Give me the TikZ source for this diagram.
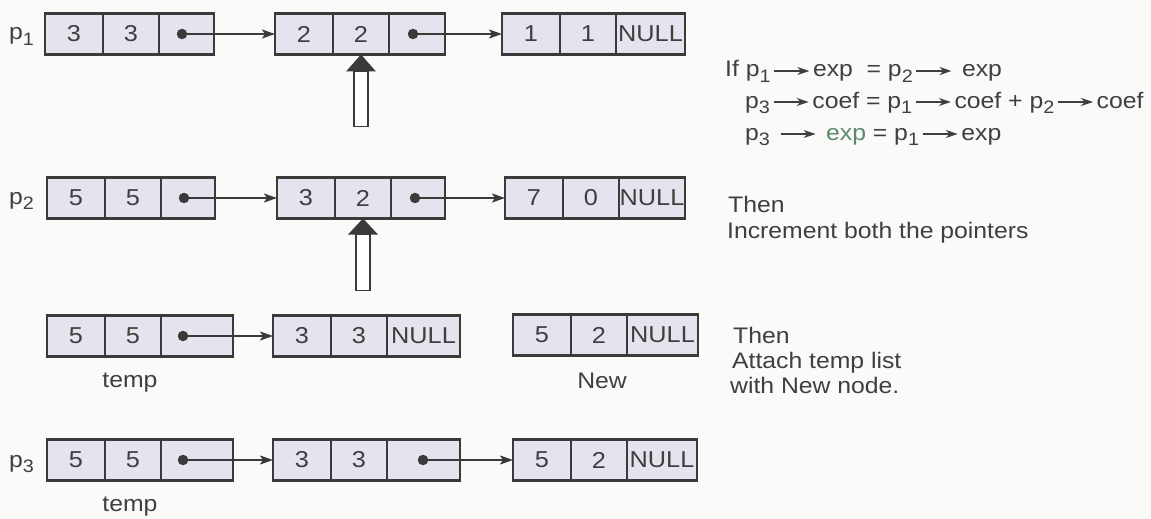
\documentclass[tikz,border=0pt]{standalone}
\usepackage{fontspec}
\setmainfont{Liberation Sans}[FakeStretch=1.1]
\usetikzlibrary{arrows.meta,calc}
\definecolor{bgc}{HTML}{FAFAF8}
\definecolor{cellc}{HTML}{E4E4EE}
\definecolor{bordc}{HTML}{3A3A3A}
\definecolor{txtc}{HTML}{3F3F3F}
\definecolor{expg}{HTML}{5E8A6C}
\newcommand\sbs[1]{\raisebox{-0.45ex}{\fontsize{18}{18}\selectfont #1}}
\newcommand\parr{\hspace{3pt}\tikz[baseline=-6pt]\draw[txtc,line width=1.4pt,-{Stealth[length=12pt,width=8pt]}] (0pt,0pt) -- (35pt,0pt);\hspace{3pt}}
% name, west x, center y, width of third cell, texts
\newcommand\listnode[7]{%
  \node[cell,minimum width=58pt] (#1-1) at (#2,#3) {#5};
  \node[cell,minimum width=56pt] (#1-2) at (#1-1.east) {#6};
  \node[cell,minimum width=#4pt] (#1-3) at (#1-2.east) {#7};
}
\begin{document}
\begin{tikzpicture}[x=1pt,y=-1pt,
  cell/.style={draw=bordc, fill=cellc, line width=2.2pt, minimum height=41pt,
    inner sep=0pt, outer sep=0pt, anchor=west, text=txtc,
    font=\fontsize{23}{27}\selectfont},
  dotn/.style={circle, fill=bordc, inner sep=0pt, minimum size=10.5pt},
  link/.style={draw=bordc, line width=2pt, -{Stealth[length=13pt,width=9pt,inset=3pt]}},
  lbl/.style={text=txtc, font=\fontsize{22.5}{27}\selectfont, inner sep=0pt, anchor=base west},
  upfill/.style={fill=bordc},
  upshaft/.style={draw=bordc, line width=1.6pt, fill=white}]
\fill[bgc] (0,0) rectangle (1151,519);
\useasboundingbox (0,0) rectangle (1151,519);

% Row 1
\listnode{r1a}{45}{34}{55}{3}{3}{}
\listnode{r1b}{275}{34}{56}{2}{2}{}
\listnode{r1c}{502}{34}{69}{1}{1}{NULL}
\node[dotn] (d1a) at ($(r1a-3.west)+(23,0)$) {};
\node[dotn] (d1b) at ($(r1b-3.west)+(24,0)$) {};
\draw[link] (d1a.center) -- (r1b-1.west);
\draw[link] (d1b.center) -- (r1c-1.west);
\node[lbl] (p1) at (9,40) {p\sbs{1}};

% Row 2
\listnode{r2a}{47}{198}{54}{5}{5}{}
\listnode{r2b}{277}{198}{54}{3}{2}{}
\listnode{r2c}{505}{198}{66}{7}{0}{NULL}
\node[dotn] (d2a) at ($(r2a-3.west)+(23,0)$) {};
\node[dotn] (d2b) at ($(r2b-3.west)+(24,0)$) {};
\draw[link] (d2a.center) -- (r2b-1.west);
\draw[link] (d2b.center) -- (r2c-1.west);
\node[lbl] (p2) at (9,204) {p\sbs{2}};

% Up arrows (pointers)
\coordinate (u1) at (r1b-2.south);
\fill[upfill] (u1) -- ($(u1)+(-15,17)$) -- ($(u1)+(15,17)$) -- cycle;
\draw[upshaft] ($(u1)+(-7,17)$) rectangle ($(u1)+(7,72)$);
\coordinate (u2) at (r2b-2.south);
\fill[upfill] (u2) -- ($(u2)+(-15,16)$) -- ($(u2)+(15,16)$) -- cycle;
\draw[upshaft] ($(u2)+(-7,16)$) rectangle ($(u2)+(7,72)$);

% Row 3
\listnode{r3a}{47}{336}{72}{5}{5}{}
\listnode{r3b}{273}{336}{73}{3}{3}{NULL}
\listnode{r3c}{513}{335}{71}{5}{2}{NULL}
\node[dotn] (d3a) at ($(r3a-3.west)+(22,0)$) {};
\draw[link] (d3a.center) -- (r3b-1.west);
\node[lbl, anchor=base] (tmp1) at (130,387) {temp};
\node[lbl, anchor=base] (new) at (602,388) {New};

% Row 4
\listnode{r4a}{47}{460}{72}{5}{5}{}
\listnode{r4b}{273}{460}{73}{3}{3}{}
\listnode{r4c}{513}{460}{70}{5}{2}{NULL}
\node[dotn] (d4a) at ($(r4a-3.west)+(22,0)$) {};
\node[dotn] (d4b) at ($(r4b-3.west)+(36,0)$) {};
\draw[link] (d4a.center) -- (r4b-1.west);
\draw[link] (d4b.center) -- (r4c-1.west);
\node[lbl] (p3) at (9,467) {p\sbs{3}};
\node[lbl, anchor=base] (tmp2) at (130,511) {temp};

% Right-hand text
\node[lbl] (c1) at (725,77) {If p\sbs{1}\parr exp \ = p\sbs{2}\parr\ exp};
\node[lbl] (c2) at (745,108) {p\sbs{3}\parr coef = p\sbs{1}\parr coef + p\sbs{2}\parr coef};
\node[lbl] (c3) at (745,140) {p\sbs{3} \parr\ \textcolor{expg}{exp} = p\sbs{1}\parr exp};
\node[lbl] (th1) at (728,212) {Then};
\node[lbl] (inc) at (727,238) {Increment both the pointers};
\node[lbl] (th2) at (733,343) {Then};
\node[lbl] (att) at (732,368) {Attach temp list};
\node[lbl] (wnn) at (730,393) {with New node.};
\end{tikzpicture}
\end{document}
